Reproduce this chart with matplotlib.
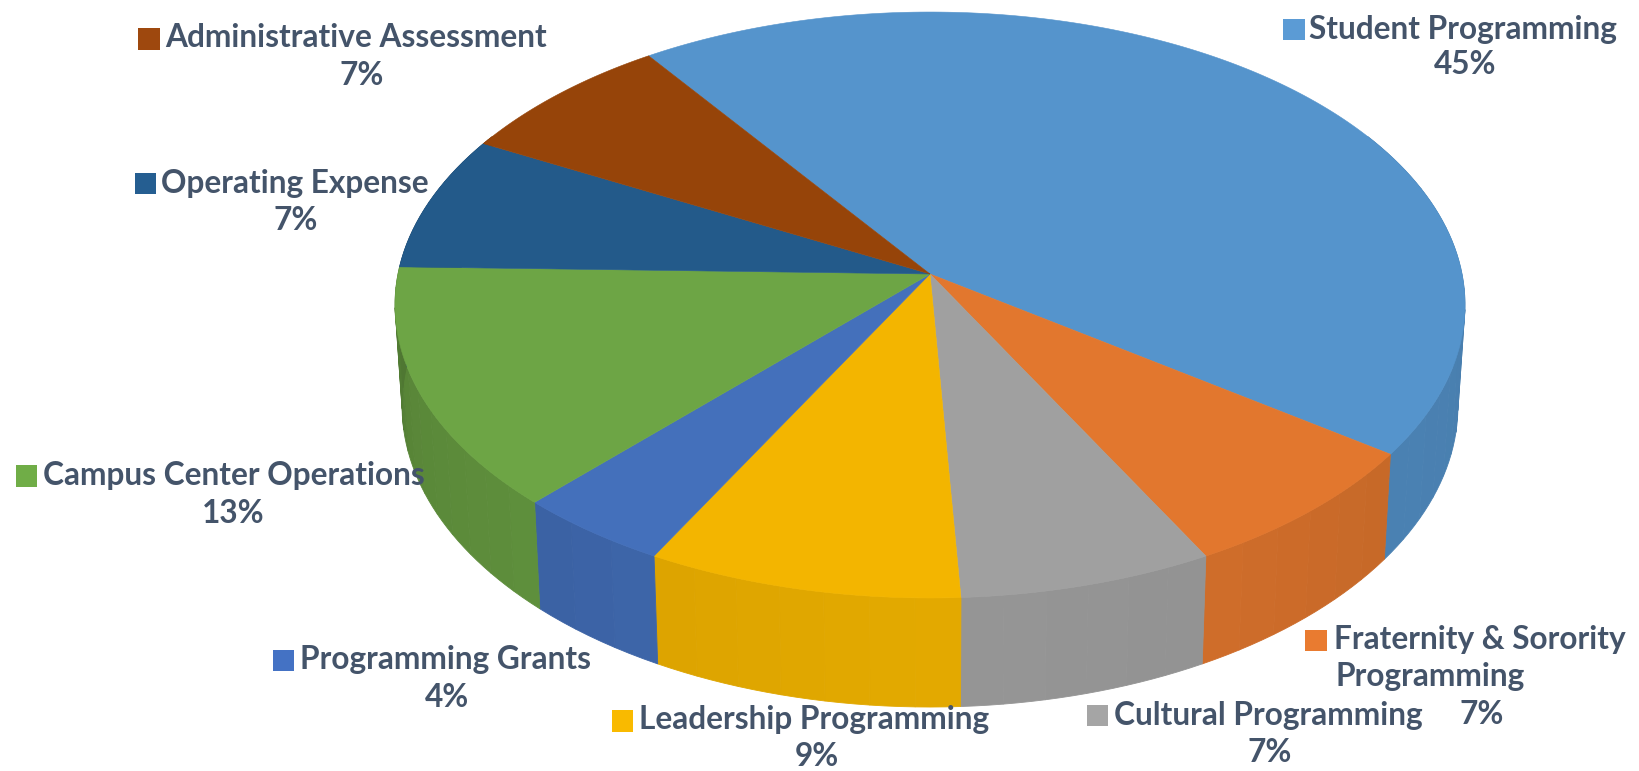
import numpy as np
import matplotlib
matplotlib.use("Agg")
import matplotlib.pyplot as plt
from matplotlib.colors import to_rgb

# ---- data ----
categories = ["Student Programming", "Fraternity & Sorority\nProgramming", "Cultural Programming",
              "Leadership Programming", "Programming Grants", "Campus Center Operations",
              "Operating Expense", "Administrative Assessment"]
shares = [44.66, 7.29, 6.96, 8.62, 4.24, 13.36, 7.44, 7.42]
percent_labels = ["45%", "7%", "7%", "9%", "4%", "13%", "7%", "7%"]

# ---- style ----
colors = ["#5594CC", "#E2772E", "#A0A0A0", "#F3B500", "#4470BB", "#6DA545", "#235A8A", "#964409"]
key_colors = ["#5B9BD5", "#E97B30", "#A5A5A5", "#F9BA00", "#4472C4", "#70AD47", "#255E91", "#9E480E"]
TEXT = "#44546A"
FONT = "Lato"
FS = 22.8
START = -35.08
cx, cy = 930.0, 274.0
K = 0.1058
A_TOP, B_TOP = 532.0, 289.7
A_BOT, B_BOT, CY_BOT = 525.0, 297.8, 374.0
shade_ang = [90, 125, 150, 180, 205, 225, 250, 270]
shade_val = [.85, .875, .915, .935, .91, .865, .82, .72]
S = 1640 / 1568
# layout (reference px at 1568 wide): key left/top, text left, text y, pct x, pct y
layout = [
    (1227, 18, 1252, 28, 1401, 62),
    (1248, 602, 1275, 629, 1417, 683),
    (1039, 674, 1065, 684, 1214, 719),
    (585, 679, 611, 688, 781, 723),
    (261, 621, 287, 631, 427, 667),
    (15, 445, 41, 455, 223, 491),
    (129, 165, 154, 175, 283, 211),
    (132, 27, 158, 36, 346, 72),
]
KEY = 20.5

def rim(t, a, b, c):
    t = np.radians(t)
    X, Y = np.sin(t), np.cos(t)
    d = 1 + K * Y
    return cx + a * X / d, c - b * Y / d

fig = plt.figure(figsize=(16.4, 7.71), dpi=100, facecolor="white")
ax = fig.add_axes([0, 0, 1, 1])
ax.set_xlim(0, 1640)
ax.set_ylim(771, 0)
ax.axis("off")

edges = START + np.cumsum([0] + shares) / sum(shares) * 360

# side walls
for i, col in enumerate(colors):
    a0, a1 = edges[i], edges[i + 1]
    lo, hi = max(a0, 60), min(a1, 300)
    if hi <= lo:
        continue
    n = max(2, int((hi - lo) / 4))
    ts = np.linspace(lo, hi, n + 1)
    base = np.array(to_rgb(col))
    for t0, t1 in zip(ts[:-1], ts[1:]):
        tt = np.linspace(t0, t1, 4)
        xt, yt = rim(tt, A_TOP, B_TOP, cy)
        xb, yb = rim(tt, A_BOT, B_BOT, CY_BOT)
        s = np.interp((t0 + t1) / 2, shade_ang, shade_val)
        c = tuple(base * s)
        ax.fill(np.r_[xt, xb[::-1]], np.r_[yt, yb[::-1]], color=c, lw=0.6, ec=c, zorder=2)

# top surface
for i, col in enumerate(colors):
    tt = np.linspace(edges[i], edges[i + 1], 200)
    x, y = rim(tt, A_TOP, B_TOP, cy)
    ax.fill(np.r_[cx, x], np.r_[cy, y], color=col, lw=0.4, ec=col, zorder=3)

# labels
for (name, pct, col, L) in zip(categories, percent_labels, key_colors, layout):
    kx, ky, tx, ty, px, py = L
    ax.add_patch(plt.Rectangle((kx * S, ky * S), KEY * S, KEY * S, fc=col, ec="none", zorder=5))
    lines = name.split("\n")
    if len(lines) == 2:
        ax.text(tx * S, 611 * S, lines[0], color=TEXT, fontfamily=FONT, fontweight="bold",
                fontsize=FS, va="center", ha="left", zorder=6)
        ax.text((tx + 2) * S, 647 * S, lines[1], color=TEXT, fontfamily=FONT, fontweight="bold",
                fontsize=FS, va="center", ha="left", zorder=6)
    else:
        ax.text(tx * S, ty * S, name, color=TEXT, fontfamily=FONT, fontweight="bold",
                fontsize=FS, va="center", ha="left", zorder=6)
    ax.text(px * S, py * S, pct, color=TEXT, fontfamily=FONT, fontweight="bold",
            fontsize=FS, va="center", ha="center", zorder=6)

fig.savefig("out.png", dpi=100, facecolor="white")
